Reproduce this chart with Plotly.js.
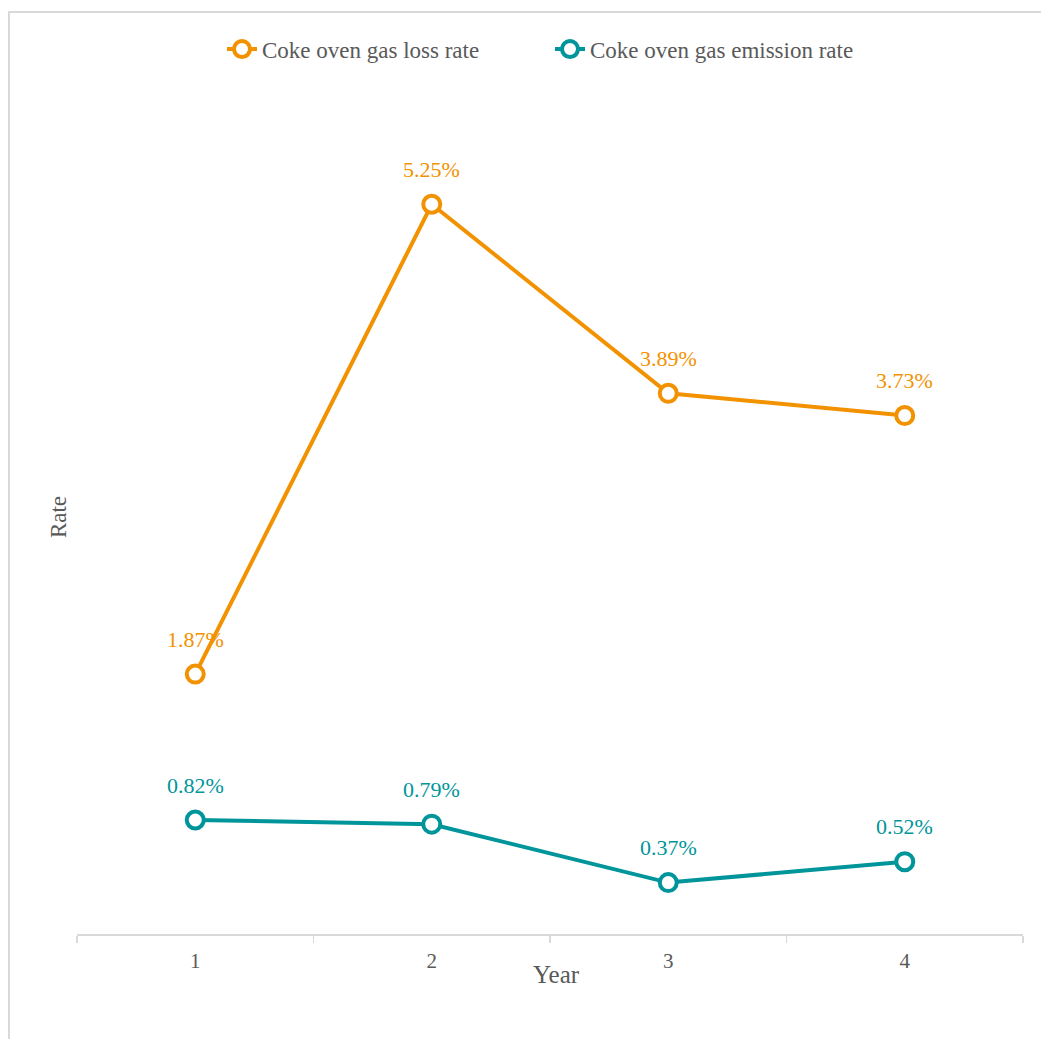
<!DOCTYPE html>
<html>
<head>
<meta charset="utf-8">
<script src="https://cdn.plot.ly/plotly-3.0.1.min.js"></script>
<style>
  html, body { margin: 0; padding: 0; background: #fff; }
  #wrap { position: relative; width: 1041px; height: 1039px; }
  #chart { width: 1041px; height: 1039px; }
  #frame { position: absolute; left: 8px; top: 11px; width: 1100px; height: 1100px;
           border-left: 2px solid #d9d9d9; border-top: 2px solid #d9d9d9; pointer-events: none; }
</style>
</head>
<body>
<div id="wrap">
  <div id="chart"></div>
  <div id="frame"></div>
</div>
<script>
const years = ["1", "2", "3", "4"];
const lossRate = [1.87, 5.25, 3.89, 3.73];
const emissionRate = [0.82, 0.79, 0.37, 0.52];
const seriesNames = ["Coke oven gas loss rate", "Coke oven gas emission rate"];
const seriesColors = ["#F39200", "#00959A"];
const xTitle = "Year";
const yTitle = "Rate";

const FONT = "'Liberation Serif', 'Times New Roman', Times, serif";
const GRAY = "#595959";

function trace(y, i) {
  return {
    x: years, y: y, name: seriesNames[i], type: "scatter", mode: "lines+markers",
    line: { color: seriesColors[i], width: 4 },
    marker: { symbol: "circle", size: 17, color: "#ffffff", line: { color: seriesColors[i], width: 4 } },
    hoverinfo: "skip"
  };
}

const annotations = [];
[lossRate, emissionRate].forEach((arr, i) => {
  arr.forEach((v, j) => {
    annotations.push({
      x: j, y: v, xref: "x", yref: "y", text: v.toFixed(2) + "%",
      showarrow: false, yshift: 35,
      font: { family: FONT, size: 22, color: seriesColors[i] }
    });
  });
});
annotations.push({
  x: 0.507, y: -0.048, xref: "paper", yref: "paper", text: xTitle, showarrow: false,
  xanchor: "center", yanchor: "middle",
  font: { family: FONT, size: 25, color: GRAY }
});

const layout = {
  width: 1041, height: 1039,
  margin: { l: 77, r: 18, t: 100, b: 105 },
  paper_bgcolor: "#ffffff", plot_bgcolor: "#ffffff",
  font: { family: FONT, size: 20, color: GRAY },
  showlegend: true,
  legend: {
    orientation: "h", x: 0.5, xanchor: "center", y: 1.061, yanchor: "middle",
    entrywidth: 283, entrywidthmode: "pixels",
    font: { family: FONT, size: 23, color: GRAY }, itemclick: false
  },
  xaxis: {
    type: "category", range: [-0.5, 3.5], tickson: "boundaries",
    ticks: "outside", ticklen: 7, tickcolor: "#d9d9d9", tickwidth: 1.5,
    showline: true, linecolor: "#d9d9d9", linewidth: 2,
    showgrid: false, zeroline: false, ticklabelstandoff: 7,
    tickfont: { family: FONT, size: 21, color: GRAY }
  },
  yaxis: {
    range: [0, 6], showticklabels: false, showgrid: false, zeroline: false,
    showline: false, ticks: "",
    title: { text: yTitle, font: { family: FONT, size: 23, color: GRAY }, standoff: 2 }
  },
  annotations: annotations
};

Plotly.newPlot("chart", [trace(lossRate, 0), trace(emissionRate, 1)], layout, { displayModeBar: false, staticPlot: true });
</script>
</body>
</html>
